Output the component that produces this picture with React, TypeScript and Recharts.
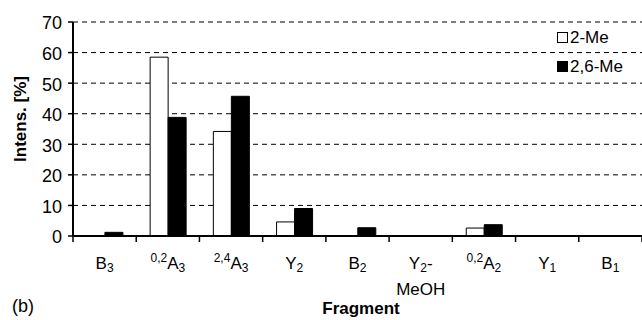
import React from 'react';
import { BarChart, Bar, XAxis, YAxis, CartesianGrid } from 'recharts';

// fragment labels: pre-superscript, base letter, subscript, suffix, second line
const fragPre = ['', '0,2', '2,4', '', '', '', '0,2', '', ''];
const fragBase = ['B', 'A', 'A', 'Y', 'B', 'Y', 'A', 'Y', 'B'];
const fragSub = ['3', '3', '3', '2', '2', '2', '2', '1', '1'];
const fragSuffix = ['', '', '', '', '', '-', '', '', ''];
const fragLine2 = ['', '', '', '', '', 'MeOH', '', '', ''];

const me2 = [0, 58.5, 34.2, 4.6, 0, 0, 2.6, 0, 0];
const me26 = [1.2, 38.8, 45.7, 9.0, 2.7, 0, 3.7, 0, 0];

const yTicks = [0, 10, 20, 30, 40, 50, 60, 70];

const W = 642;
const H = 320;
const LEFT = 73;
const RIGHT = 0;
const BAND = (W - LEFT - RIGHT) / fragBase.length;
const FONT = "'Liberation Sans', Arial, sans-serif";

const data = fragBase.map((b, i) => ({
  idx: i,
  '2-Me': me2[i],
  '2,6-Me': me26[i],
}));

const FragTick = (props: any) => {
  const { x, y, payload, index } = props;
  const i = payload.value;
  const left = x - BAND / 2;
  const right = x + BAND / 2;
  return (
    <g>
      <line x1={left} y1={y} x2={left} y2={y + 6} stroke="#000" strokeWidth={1.5} />
      {index === fragBase.length - 1 && (
        <line x1={right} y1={y} x2={right} y2={y + 6} stroke="#000" strokeWidth={1.5} />
      )}
      <text x={x} y={y + 33} textAnchor="middle" fontFamily={FONT} fontSize={17} fill="#000">
        {fragPre[i] && (
          <tspan fontSize={12} dy={-7}>
            {fragPre[i]}
          </tspan>
        )}
        <tspan fontSize={17} dy={fragPre[i] ? 7 : 0}>
          {fragBase[i]}
        </tspan>
        <tspan fontSize={12} dy={3}>
          {fragSub[i]}
        </tspan>
        {fragSuffix[i] && (
          <tspan fontSize={17} dy={-3}>
            {fragSuffix[i]}
          </tspan>
        )}
      </text>
      {fragLine2[i] && (
        <text x={x} y={y + 59} textAnchor="middle" fontFamily={FONT} fontSize={17} fill="#000">
          {fragLine2[i]}
        </text>
      )}
    </g>
  );
};

export default function App() {
  return (
    <div style={{ position: 'absolute', left: 0, top: 0, width: W, height: H, background: '#fff' }}>
      <BarChart
        width={W}
        height={H}
        data={data}
        margin={{ top: 22, right: RIGHT, left: 0, bottom: 0 }}
        barGap={0}
        barCategoryGap="22%"
      >
        <CartesianGrid vertical={false} stroke="#000" strokeDasharray="5 4" />
        <XAxis
          dataKey="idx"
          height={84}
          axisLine={{ stroke: '#000', strokeWidth: 2 }}
          tickLine={false}
          tickSize={0}
          tickMargin={0}
          interval={0}
          tick={<FragTick />}
          label={{
            content: () => (
              <text x={361} y={314} textAnchor="middle" fontFamily={FONT} fontSize={17} fontWeight="bold" fill="#000">
                Fragment
              </text>
            ),
          }}
        />
        <YAxis
          width={LEFT}
          domain={[0, 70]}
          ticks={yTicks}
          interval={0}
          axisLine={{ stroke: '#000', strokeWidth: 2 }}
          tickLine={{ stroke: '#000', strokeWidth: 1.5 }}
          tickSize={5}
          tickMargin={6}
          tick={{ fill: '#000', fontSize: 18, fontFamily: FONT, dy: 1 }}
          label={{
            content: () => (
              <text
                x={26}
                y={119}
                transform="rotate(-90 26 119)"
                textAnchor="middle"
                fontFamily={FONT}
                fontSize={17}
                fontWeight="bold"
                fill="#000"
              >
                Intens. [%]
              </text>
            ),
          }}
        />
        <Bar dataKey="2-Me" fill="#fff" stroke="#000" strokeWidth={1} isAnimationActive={false} />
        <Bar dataKey="2,6-Me" fill="#000" stroke="#000" strokeWidth={1} isAnimationActive={false} />
      </BarChart>
      <div style={{ position: 'absolute', left: 557, top: 23, fontFamily: FONT, fontSize: 17, color: '#000', lineHeight: '29px' }}>
        <div style={{ display: 'flex', alignItems: 'center' }}>
          <span style={{ width: 9, height: 9, border: '1px solid #000', background: '#fff', marginRight: 2 }} />
          2-Me
        </div>
        <div style={{ display: 'flex', alignItems: 'center' }}>
          <span style={{ width: 11, height: 11, background: '#000', marginRight: 2 }} />
          2,6-Me
        </div>
      </div>
      <div style={{ position: 'absolute', left: 12, top: 296, fontFamily: FONT, fontSize: 18, color: '#000' }}>(b)</div>
    </div>
  );
}
